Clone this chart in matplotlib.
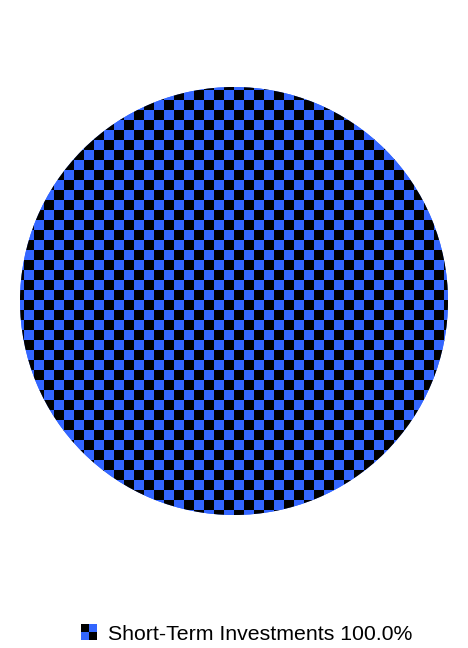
import numpy as np
import matplotlib
matplotlib.use("Agg")
import matplotlib.pyplot as plt
from matplotlib.colors import ListedColormap

categories = ["Short-Term Investments"]
values = [100.0]
colors_a = ["#3366ff"]
colors_b = ["#000000"]

W, H = 468, 648
fig = plt.figure(figsize=(W / 100, H / 100), dpi=100)

# pie axes (pixel aligned)
left_px, top_px, d_px = 20, 87, 428
r = d_px / 2
ax = fig.add_axes([left_px / W, (H - top_px - d_px) / H, d_px / W, d_px / H])
wedges, _ = ax.pie(values, colors=colors_a, startangle=90, counterclock=False,
                   radius=1, wedgeprops=dict(linewidth=0))

# checker overlay clipped to each wedge
cell_px = 10
off_x, off_y = 6, 7
n = int(np.ceil((d_px + off_x + off_y) / cell_px)) + 1
for w, ca, cb in zip(wedges, colors_a, colors_b):
    yy, xx = np.indices((n, n))
    board = (xx + yy) % 2
    cmap = ListedColormap([ca, cb])
    x0 = -1 - off_x / r
    y1 = 1 + off_y / r
    ext = n * cell_px / r
    im = ax.imshow(board, cmap=cmap, extent=[x0, x0 + ext, y1 - ext, y1],
                   interpolation="none", origin="upper", zorder=2)
    im.set_clip_path(w)
ax.set_xlim(-1, 1)
ax.set_ylim(-1, 1)
ax.set_aspect("equal")
ax.axis("off")

# legend
for i, (lab, v, ca, cb) in enumerate(zip(categories, values, colors_a, colors_b)):
    mx, my, ms = 81, 624, 16
    lax = fig.add_axes([mx / W, (H - my - ms) / H, ms / W, ms / H])
    lax.imshow(np.array([[1, 0], [0, 1]]), cmap=ListedColormap([ca, cb]),
               interpolation="nearest", aspect="auto")
    lax.axis("off")
    fig.text(108 / W, (H - 634.5) / H, f"{lab} {v:.1f}%", fontsize=15.3,
             family="Liberation Sans", va="center", ha="left", color="#000000")

fig.savefig("out.png", dpi=100, facecolor="white")
